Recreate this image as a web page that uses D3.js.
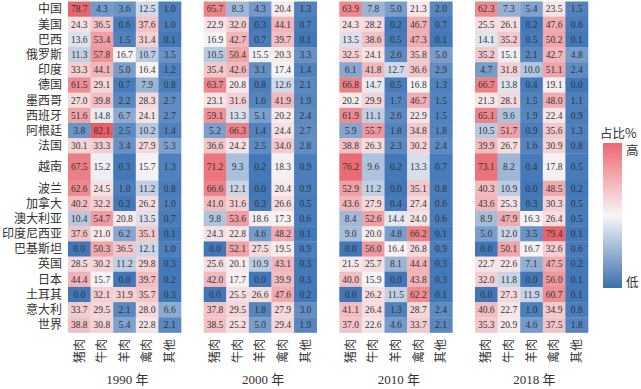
<!DOCTYPE html>
<html>
<head>
<meta charset="utf-8">
<script src="https://cdn.jsdelivr.net/npm/d3@7"></script>
<style>
  body { margin: 0; background: #fff; }
  svg text { font-family: "Liberation Serif", "Noto Sans CJK SC", serif; fill: #333; }
  .zh { font-family: "Noto Sans CJK SC", sans-serif; }
</style>
</head>
<body>
<svg id="chart" width="641" height="389"></svg>
<script>
var countries = ['中国', '美国', '巴西', '俄罗斯', '印度', '德国', '墨西哥', '西班牙', '阿根廷', '法国',
  '越南', '波兰', '加拿大', '澳大利亚', '印度尼西亚', '巴基斯坦', '英国', '日本', '土耳其', '意大利', '世界'];
var meats = ['猪肉', '牛肉', '羊肉', '禽肉', '其他'];
var years = ['1990', '2000', '2010', '2018'];

var v1990 = [
  [78.7, 4.3, 3.6, 12.5, 1.0], [24.3, 36.5, 0.6, 37.6, 1.0], [13.6, 53.4, 1.5, 31.4, 0.1],
  [11.3, 57.8, 16.7, 10.7, 3.5], [33.3, 44.1, 5.0, 16.4, 1.2], [61.5, 29.1, 0.7, 7.9, 0.8],
  [27.0, 39.8, 2.2, 28.3, 2.7], [51.6, 14.8, 6.7, 24.1, 2.7], [3.8, 82.1, 2.5, 10.2, 1.4],
  [30.1, 33.3, 3.4, 27.9, 5.3], [67.5, 15.2, 0.3, 15.7, 1.3], [62.6, 24.5, 1.0, 11.2, 0.8],
  [40.2, 32.2, 0.3, 26.2, 1.0], [10.4, 54.7, 20.8, 13.5, 0.7], [37.6, 21.0, 6.2, 35.1, 0.1],
  [0.0, 50.3, 36.5, 12.1, 1.0], [28.5, 30.2, 11.2, 29.8, 0.3], [44.4, 15.7, 0.0, 39.7, 0.2],
  [0.0, 32.1, 31.9, 35.7, 0.3], [33.7, 29.5, 2.1, 28.0, 6.6], [38.8, 30.8, 5.4, 22.8, 2.1]
];
var v2000 = [
  [65.7, 8.3, 4.3, 20.4, 1.3], [22.9, 32.0, 0.3, 44.1, 0.7], [16.9, 42.7, 0.7, 39.7, 0.1],
  [10.5, 50.4, 15.5, 20.3, 3.3], [35.4, 42.6, 3.1, 17.4, 1.4], [63.7, 20.8, 0.8, 12.6, 2.1],
  [23.1, 31.6, 1.6, 41.9, 1.9], [59.1, 13.3, 5.1, 20.2, 2.4], [5.2, 66.3, 1.4, 24.4, 2.7],
  [36.6, 24.2, 2.5, 34.0, 2.8], [71.2, 9.3, 0.2, 18.3, 0.9], [66.6, 12.1, 0.0, 20.4, 0.9],
  [41.0, 31.6, 0.3, 26.6, 0.5], [9.8, 53.6, 18.6, 17.3, 0.6], [24.3, 22.8, 4.6, 48.2, 0.1],
  [0.0, 52.1, 27.5, 19.5, 0.9], [25.6, 20.1, 10.9, 43.1, 0.3], [42.0, 17.7, 0.0, 39.9, 0.3],
  [0.0, 25.5, 26.6, 47.6, 0.2], [37.8, 29.5, 1.8, 27.9, 3.0], [38.5, 25.2, 5.0, 29.4, 1.9]
];
var v2010 = [
  [63.9, 7.8, 5.0, 21.3, 2.0], [24.3, 28.2, 0.2, 46.7, 0.7], [13.5, 38.6, 0.5, 47.3, 0.1],
  [32.5, 24.1, 2.6, 35.8, 5.0], [6.1, 41.8, 12.7, 36.6, 2.9], [66.8, 14.7, 0.5, 16.8, 1.3],
  [20.2, 29.9, 1.7, 46.7, 1.5], [61.9, 11.1, 2.6, 22.9, 1.5], [5.9, 55.7, 1.8, 34.8, 1.8],
  [38.8, 26.3, 2.3, 30.2, 2.4], [76.2, 9.6, 0.2, 13.3, 0.7], [52.9, 11.2, 0.0, 35.1, 0.8],
  [43.6, 27.9, 0.4, 27.4, 0.6], [8.4, 52.6, 14.4, 24.0, 0.6], [9.0, 20.0, 4.8, 66.2, 0.1],
  [0.0, 56.0, 16.4, 26.8, 0.9], [21.5, 25.7, 8.1, 44.4, 0.3], [40.0, 15.9, 0.0, 43.8, 0.3],
  [0.0, 26.2, 11.5, 62.2, 0.1], [41.1, 26.4, 1.3, 28.7, 2.4], [37.0, 22.6, 4.6, 33.7, 2.1]
];
var v2018 = [
  [62.3, 7.3, 5.4, 23.5, 1.5], [25.5, 26.1, 0.2, 47.6, 0.6], [14.1, 35.2, 0.5, 50.2, 0.1],
  [35.2, 15.1, 2.1, 42.7, 4.8], [4.7, 31.8, 10.0, 51.1, 2.4], [66.7, 13.8, 0.4, 19.1, 0.0],
  [21.3, 28.1, 1.5, 48.0, 1.1], [65.1, 9.6, 1.9, 22.4, 0.9], [10.5, 51.7, 0.9, 35.6, 1.3],
  [39.9, 26.7, 1.6, 30.9, 0.8], [73.1, 8.2, 0.4, 17.8, 0.5], [40.3, 10.9, 0.0, 48.5, 0.2],
  [43.6, 25.3, 0.3, 30.3, 0.5], [8.9, 47.9, 16.3, 26.4, 0.5], [5.0, 12.0, 3.5, 79.4, 0.1],
  [0.0, 50.1, 16.7, 32.6, 0.6], [22.7, 22.6, 7.1, 47.5, 0.2], [32.0, 11.8, 0.0, 56.0, 0.1],
  [0.0, 27.3, 11.9, 60.7, 0.1], [40.6, 22.7, 1.0, 34.9, 0.8], [35.3, 20.9, 4.6, 37.5, 1.8]
];
var valuesByYear = [v1990, v2000, v2010, v2018];

var svg = d3.select('#chart');

// the 越南 row is drawn taller in the original figure
var rowUnits = countries.map(function(c) { return c === '越南' ? 1.8 : 1; });
var rowStart = [0];
rowUnits.forEach(function(u, i) { rowStart.push(rowStart[i] + u); });
var y = d3.scaleLinear().domain([0, rowStart[rowStart.length - 1]]).range([1.5, 332.5]);

var panel = d3.scaleBand().domain(years).range([68, 588]).paddingInner(0.167);

var color = d3.scaleLinear()
    .domain([0, 16, 80])
    .range(['#4177b8', '#f7f4f6', '#e9626a']);

years.forEach(function(year, yi) {
  var x = d3.scaleBand().domain(meats)
      .range([panel(year), panel(year) + panel.bandwidth()]);
  var g = svg.append('g');

  var cells = [];
  valuesByYear[yi].forEach(function(row, ri) {
    row.forEach(function(v, mi) {
      cells.push({row: ri, meat: meats[mi], value: v});
    });
  });

  g.selectAll('rect').data(cells).enter().append('rect')
      .attr('x', function(d) { return x(d.meat); })
      .attr('y', function(d) { return y(rowStart[d.row]); })
      .attr('width', x.bandwidth() + 0.3)
      .attr('height', function(d) { return y(rowStart[d.row + 1]) - y(rowStart[d.row]) + 0.3; })
      .attr('fill', function(d) { return color(d.value); });

  g.selectAll('text.val').data(cells).enter().append('text')
      .attr('class', 'val')
      .attr('x', function(d) { return x(d.meat) + x.bandwidth() / 2; })
      .attr('y', function(d) { return (y(rowStart[d.row]) + y(rowStart[d.row + 1])) / 2; })
      .attr('dy', '0.35em')
      .attr('text-anchor', 'middle')
      .style('font-size', '9.5px')
      .text(function(d) { return d.value.toFixed(1); });

  g.selectAll('text.meat').data(meats).enter().append('text')
      .attr('class', 'meat zh')
      .attr('transform', function(d) {
        return 'translate(' + (x(d) + x.bandwidth() / 2) + ',339) rotate(-90)';
      })
      .attr('dy', '0.35em')
      .attr('text-anchor', 'end')
      .style('font-size', '12px')
      .text(function(d) { return d; });

  svg.append('text')
      .attr('x', panel(year) + panel.bandwidth() / 2 + 3)
      .attr('y', 384)
      .attr('text-anchor', 'middle')
      .style('font-size', '13px')
      .text(year + ' 年');
});

// country labels
svg.selectAll('text.country').data(countries).enter().append('text')
    .attr('class', 'country zh')
    .attr('x', 62)
    .attr('y', function(d, i) { return (y(rowStart[i]) + y(rowStart[i + 1])) / 2; })
    .attr('dy', '0.36em')
    .attr('text-anchor', 'end')
    .style('font-size', '12px')
    .text(function(d) { return d; });

// colour bar
var grad = svg.append('defs').append('linearGradient')
    .attr('id', 'cbar').attr('x1', 0).attr('y1', 0).attr('x2', 0).attr('y2', 1);
grad.append('stop').attr('offset', '0%').attr('stop-color', '#ee6870');
grad.append('stop').attr('offset', '50%').attr('stop-color', '#f8f6f8');
grad.append('stop').attr('offset', '100%').attr('stop-color', '#3a6fae');

svg.append('rect')
    .attr('x', 603).attr('y', 143).attr('width', 19).attr('height', 145)
    .attr('fill', 'url(#cbar)');

svg.append('text').attr('class', 'zh')
    .attr('x', 600).attr('y', 138)
    .style('font-size', '12.5px')
    .text('占比%');
svg.append('text').attr('class', 'zh')
    .attr('x', 626).attr('y', 150).attr('dy', '0.36em')
    .style('font-size', '12.5px')
    .text('高');
svg.append('text').attr('class', 'zh')
    .attr('x', 626).attr('y', 282).attr('dy', '0.36em')
    .style('font-size', '12.5px')
    .text('低');
</script>
</body>
</html>
